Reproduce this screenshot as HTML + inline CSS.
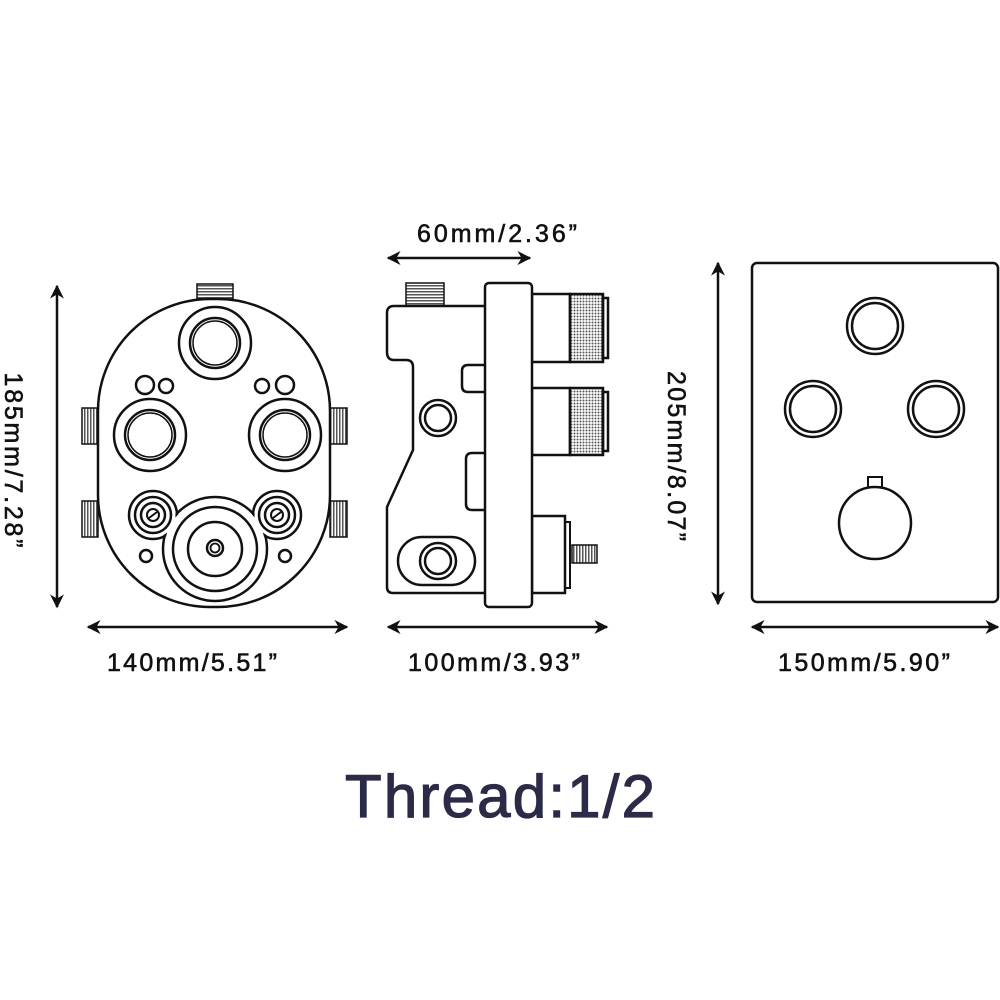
<!DOCTYPE html>
<html><head><meta charset="utf-8"><style>
html,body{margin:0;padding:0;background:#fff;width:1000px;height:1000px;overflow:hidden}
svg{display:block}
text{font-family:"Liberation Sans",sans-serif;fill:#111}
.l{font-size:25px;stroke:#111;stroke-width:0.6}
</style></head><body>
<svg width="1000" height="1000" viewBox="0 0 1000 1000" xmlns="http://www.w3.org/2000/svg">
<defs>
<marker id="a" viewBox="0 0 10 10" refX="9" refY="5" markerWidth="14" markerHeight="14" orient="auto-start-reverse" markerUnits="userSpaceOnUse">
<path d="M0,0 L10,5 L0,10 L3,5 Z" fill="#111"/></marker>
<pattern id="th" width="3" height="3" patternUnits="userSpaceOnUse"><rect width="3" height="3" fill="#fff"/><rect width="3" height="1.5" fill="#555"/></pattern>
<pattern id="tv" width="3" height="3" patternUnits="userSpaceOnUse"><rect width="3" height="3" fill="#fff"/><rect width="1.5" height="3" fill="#555"/></pattern>
<pattern id="kn" width="3" height="3" patternUnits="userSpaceOnUse"><rect width="3" height="3" fill="#fff"/><circle cx="1.5" cy="1.5" r="1" fill="#555"/></pattern>
</defs>
<g fill="none" stroke="#111" stroke-width="2.5">
<line x1="57" y1="286" x2="57" y2="607" marker-start="url(#a)" marker-end="url(#a)"/>
<line x1="88" y1="627" x2="347" y2="627" marker-start="url(#a)" marker-end="url(#a)"/>
<rect x="197" y="284" width="36" height="15" fill="url(#th)" stroke-width="1.5"/>
<rect x="82" y="408" width="16" height="36" fill="url(#tv)" stroke-width="1.5"/>
<rect x="82" y="501" width="16" height="36" fill="url(#tv)" stroke-width="1.5"/>
<rect x="330" y="408" width="17" height="36" fill="url(#tv)" stroke-width="1.5"/>
<rect x="330" y="501" width="17" height="36" fill="url(#tv)" stroke-width="1.5"/>
<rect x="98" y="299" width="232" height="308" rx="112" ry="112" fill="#fff"/>
<circle cx="215" cy="343" r="36"/><circle cx="215" cy="343" r="25"/><circle cx="215" cy="343" r="22" stroke-width="1.5"/>
<circle cx="145" cy="385" r="9"/><circle cx="166" cy="386" r="7"/>
<circle cx="262" cy="386" r="7"/><circle cx="285" cy="385" r="9"/>
<circle cx="150" cy="435" r="36"/><circle cx="150" cy="435" r="25"/><circle cx="150" cy="435" r="22" stroke-width="1.5"/>
<circle cx="285" cy="435" r="36"/><circle cx="285" cy="435" r="25"/><circle cx="285" cy="435" r="22" stroke-width="1.5"/>
<circle cx="215" cy="549" r="52"/><circle cx="153" cy="515" r="24"/><circle cx="277" cy="515" r="24"/>
<circle cx="215" cy="549" r="50.5" fill="#fff" stroke="none"/><circle cx="153" cy="515" r="22.5" fill="#fff" stroke="none"/><circle cx="277" cy="515" r="22.5" fill="#fff" stroke="none"/>
<circle cx="215" cy="549" r="42"/><circle cx="215" cy="549" r="27"/><circle cx="215" cy="548" r="8"/><circle cx="215" cy="548" r="4.5" stroke-width="1.8"/>
<circle cx="153" cy="515" r="18"/><circle cx="153" cy="515" r="12"/><circle cx="153" cy="515" r="6" stroke-width="2"/><line x1="149" y1="518" x2="157" y2="512" stroke-width="2"/>
<circle cx="277" cy="515" r="18"/><circle cx="277" cy="515" r="12"/><circle cx="277" cy="515" r="6" stroke-width="2"/><line x1="273" y1="518" x2="281" y2="512" stroke-width="2"/>
<circle cx="146" cy="556" r="6"/><circle cx="285" cy="556" r="6"/>
<line x1="388" y1="258" x2="530" y2="258" marker-start="url(#a)" marker-end="url(#a)"/>
<line x1="388" y1="627" x2="607" y2="627" marker-start="url(#a)" marker-end="url(#a)"/>
<rect x="406" y="283" width="38" height="23" fill="url(#th)" stroke-width="1.5"/>
<path d="M485,306 L394,306 Q387,306 387,313 L387,352 Q387,360 394,360 L406,360 Q413,360 413,367 L413,450 L387,507 L387,587 Q387,593 393,593 L485,593" fill="#fff"/>
<path d="M485,365 L468,365 Q462,365 462,371 L462,386 Q462,392 468,392 L485,392"/>
<path d="M485,453 L472,453 Q466,453 466,459 L466,504 Q466,510 472,510 L485,510"/>
<circle cx="438" cy="418" r="18"/><circle cx="438" cy="418" r="13"/>
<rect x="398" y="537" width="77" height="48" rx="24" ry="24"/>
<circle cx="438" cy="561" r="18"/><circle cx="438" cy="561" r="13"/>
<rect x="532" y="294" width="38" height="68"/>
<rect x="570" y="294" width="33" height="68" fill="url(#kn)"/>
<rect x="603" y="298" width="5" height="60"/>
<rect x="532" y="388" width="38" height="67"/>
<rect x="570" y="388" width="33" height="67" fill="url(#kn)"/>
<rect x="603" y="392" width="5" height="59"/>
<rect x="532" y="516" width="33" height="77"/>
<rect x="565" y="522" width="5" height="66" stroke-width="2"/>
<rect x="572" y="545" width="25" height="18" fill="url(#tv)" stroke-width="1.5"/>
<rect x="485" y="283" width="47" height="324" rx="4" ry="4" fill="#fff"/>
<line x1="718" y1="263" x2="718" y2="604" marker-start="url(#a)" marker-end="url(#a)"/>
<line x1="752" y1="627" x2="998" y2="627" marker-start="url(#a)" marker-end="url(#a)"/>
<rect x="752" y="263" width="246" height="339" rx="5" ry="5"/>
<circle cx="875" cy="326" r="28"/><circle cx="875" cy="326" r="23"/>
<circle cx="813" cy="409" r="28"/><circle cx="813" cy="409" r="23"/>
<circle cx="936" cy="409" r="28"/><circle cx="936" cy="409" r="23"/>
<rect x="868" y="477" width="14" height="10" stroke-width="2"/>
<circle cx="875" cy="523" r="36" fill="#fff"/>
</g>
<text class="l" x="497" y="242" text-anchor="middle" textLength="160">60mm/2.36”</text>
<text class="l" x="192" y="671" text-anchor="middle" textLength="170">140mm/5.51”</text>
<text class="l" x="494" y="671" text-anchor="middle" textLength="172">100mm/3.93”</text>
<text class="l" x="864" y="671" text-anchor="middle" textLength="172">150mm/5.90”</text>
<text class="l" transform="translate(5,460) rotate(90)" text-anchor="middle" textLength="175">185mm/7.28”</text>
<text class="l" transform="translate(668,456) rotate(90)" text-anchor="middle" textLength="170">205mm/8.07”</text>
<text x="500" y="817" font-size="60" text-anchor="middle" textLength="310" style="fill:#2b2b48;stroke:#2b2b48;stroke-width:1.2">Thread:1/2</text>
</svg>
</body></html>
